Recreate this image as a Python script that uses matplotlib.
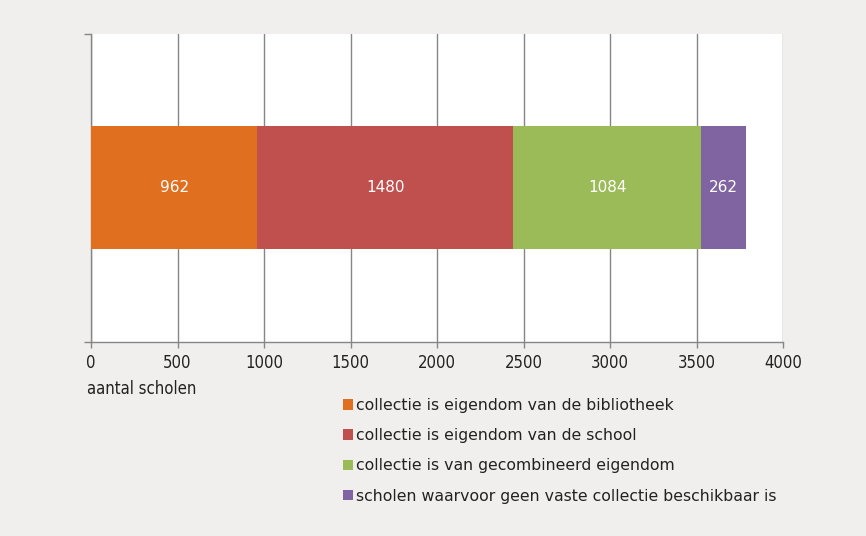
import matplotlib
matplotlib.use("Agg")
import matplotlib.pyplot as plt
from matplotlib import font_manager

categories = [
    "collectie is eigendom van de bibliotheek",
    "collectie is eigendom van de school",
    "collectie is van gecombineerd eigendom",
    "scholen waarvoor geen vaste collectie beschikbaar is",
]
values = [962, 1480, 1084, 262]
colors = ["#e07020", "#c0504d", "#9bbb59", "#8064a2"]
xticks = [0, 500, 1000, 1500, 2000, 2500, 3000, 3500, 4000]
xlabel = "aantal scholen"

W, H = 866, 536
bg = "#f0efed"
gray = "#868686"


def pick_narrow():
    # first narrow family that is really installed
    for fam, stretch in [("Liberation Sans Narrow", "normal"),
                         ("Liberation Sans Narrow", "condensed"),
                         ("Arial Narrow", "normal"),
                         ("DejaVu Sans", "condensed"),
                         ("Roboto Condensed", "normal")]:
        fp = font_manager.FontProperties(family=fam, stretch=stretch)
        try:
            path = font_manager.findfont(fp, fallback_to_default=False)
        except ValueError:
            continue
        name = path.lower()
        if "narrow" in name or "condensed" in name:
            return font_manager.FontProperties(fname=path)
    return font_manager.FontProperties(family="Roboto")


narrow = pick_narrow()
narrow.set_size(12)

fig = plt.figure(figsize=(W / 100, H / 100), dpi=100, facecolor=bg)
ax = fig.add_axes([91 / W, 1 - 342 / H, (783 - 91) / W, (342 - 33.5) / H])
ax.set_facecolor("white")

left = 0
for name, v, c in zip(categories, values, colors):
    ax.barh(0, v, left=left, height=0.4, color=c, label=name, zorder=3)
    ax.text(left + v / 2, 0, str(v), ha="center", va="center",
            color="white", fontsize=11, family="DejaVu Sans", zorder=4)
    left += v

ax.set_xlim(0, 4000)
ax.set_ylim(-0.5, 0.5)
ax.set_xticks(xticks)
ax.set_xticklabels([str(t) for t in xticks], fontproperties=narrow)
ax.set_yticks([-0.5, 0.5])
ax.set_yticklabels([])
ax.tick_params(axis="x", length=4, width=1, color=gray, pad=4.5, labelcolor="#222222")
ax.tick_params(axis="y", length=5, width=1, color=gray)
ax.grid(axis="x", color=gray, linewidth=1, zorder=0)
for s in ["top", "right"]:
    ax.spines[s].set_visible(False)
for s in ["left", "bottom"]:
    ax.spines[s].set_color(gray)
    ax.spines[s].set_linewidth(1)

fig.text(87 / W, 1 - 389 / H, xlabel, ha="left", va="center",
         fontproperties=narrow, color="#222222")

fig.legend(loc="upper left", bbox_to_anchor=(343 / W, 1 - 398 / H),
           frameon=False, handlelength=0.65, handleheight=0.65,
           handletextpad=0.2, labelspacing=0.97, borderpad=0, borderaxespad=0,
           labelcolor="#222222", prop={"family": "DejaVu Sans", "size": 11.3})

fig.savefig("out.png", dpi=100, facecolor=bg)
